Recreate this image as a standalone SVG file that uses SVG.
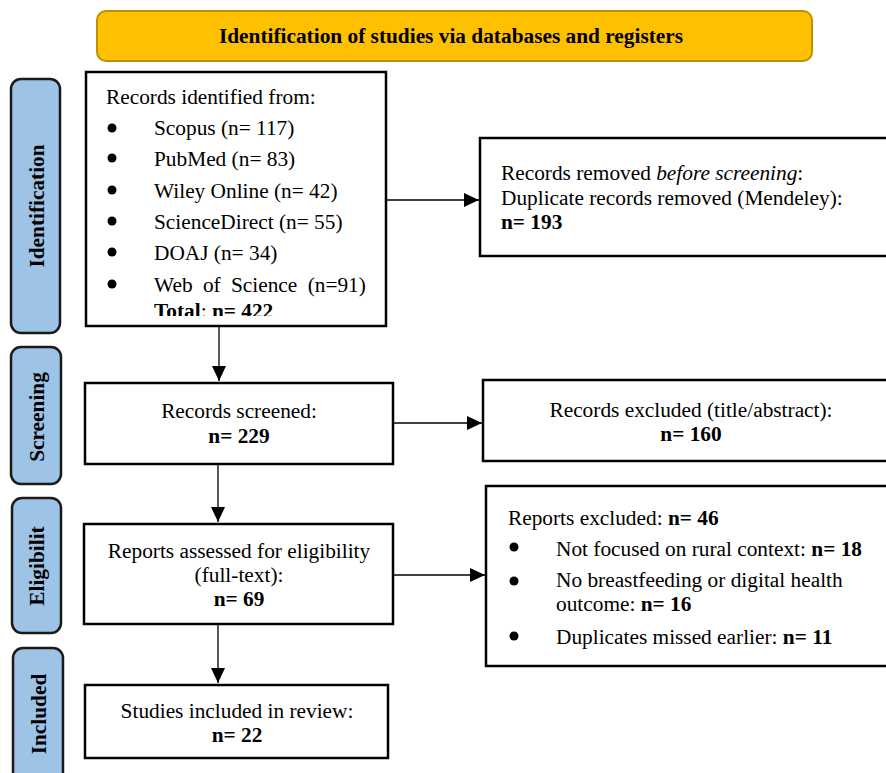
<svg xmlns="http://www.w3.org/2000/svg" width="886" height="773" viewBox="0 0 886 773">
<style>
text{font-family:"Liberation Serif","Times New Roman",serif;font-size:21.33px;fill:#000}
.b{font-weight:bold}
.c{text-anchor:middle}
.box{fill:#fff;stroke:#000;stroke-width:2.5}
.side{fill:#9DC3E6;stroke:#1a1a1a;stroke-width:2.5}
.conn{stroke:#000;stroke-width:1.3;fill:none}
</style>
<defs>
<marker id="ah" markerWidth="15" markerHeight="14" refX="15" refY="7" orient="auto" markerUnits="userSpaceOnUse">
<path d="M0,0 L15,7 L0,14 Z" fill="#000"/>
</marker>
<clipPath id="clip1"><rect x="86" y="72" width="300" height="244"/></clipPath>
</defs>

<g id="banner">
<rect x="97" y="11" width="715" height="50" rx="9" fill="#FFC000" stroke="#BF9000" stroke-width="2"/>
<text class="b c" x="451" y="43">Identification of studies via databases and registers</text>
</g>

<g id="phase-identification">
<rect class="side" x="11" y="79" width="49" height="254" rx="10"/>
<text class="b c" transform="translate(44,206) rotate(-90)">Identification</text>
</g>
<g id="phase-screening">
<rect class="side" x="11" y="347" width="50" height="137" rx="10"/>
<text class="b c" transform="translate(44,417) rotate(-90)">Screening</text>
</g>
<g id="phase-eligibility">
<rect class="side" x="12" y="498" width="49" height="135" rx="10"/>
<text class="b c" transform="translate(44,566) rotate(-90)">Eligibilit</text>
</g>
<g id="phase-included">
<rect class="side" x="13" y="648" width="50" height="140" rx="10"/>
<text class="b c" transform="translate(46,714) rotate(-90)">Included</text>
</g>

<g id="records-identified">
<rect class="box" x="86" y="72" width="300" height="254"/>
<g clip-path="url(#clip1)">
<text x="106" y="104">Records identified from:</text>
<circle cx="112" cy="128" r="4.5"/>
<text x="154" y="135">Scopus (n= 117)</text>
<circle cx="112" cy="158" r="4.5"/>
<text x="154" y="166">PubMed (n= 83)</text>
<circle cx="112" cy="190" r="4.5"/>
<text x="154" y="198">Wiley Online (n= 42)</text>
<circle cx="112" cy="221" r="4.5"/>
<text x="154" y="229">ScienceDirect (n= 55)</text>
<circle cx="112" cy="252" r="4.5"/>
<text x="154" y="260">DOAJ (n= 34)</text>
<circle cx="112" cy="284" r="4.5"/>
<text x="154" y="292" word-spacing="5">Web of Science (n=91)</text>
<text x="154" y="318"><tspan class="b">Total</tspan>: <tspan class="b">n= 422</tspan></text>
</g>
</g>

<g id="records-removed">
<rect class="box" x="480" y="138" width="420" height="118"/>
<text x="501" y="180">Records removed <tspan font-style="italic">before screening</tspan>:</text>
<text x="501" y="205">Duplicate records removed (Mendeley):</text>
<text class="b" x="501" y="229">n= 193</text>
</g>

<g id="records-screened">
<rect class="box" x="85" y="383" width="308" height="81"/>
<text class="c" x="239" y="418">Records screened:</text>
<text class="b c" x="239" y="443">n= 229</text>
</g>

<g id="records-excluded">
<rect class="box" x="483" y="380" width="420" height="81"/>
<text class="c" x="691" y="417">Records excluded (title/abstract):</text>
<text class="b c" x="691" y="441">n= 160</text>
</g>

<g id="reports-assessed">
<rect class="box" x="84" y="524" width="309" height="100"/>
<text class="c" x="239" y="558">Reports assessed for eligibility</text>
<text class="c" x="239" y="582">(full-text):</text>
<text class="b c" x="239" y="606">n= 69</text>
</g>

<g id="reports-excluded">
<rect class="box" x="486" y="486" width="420" height="180"/>
<text x="508" y="525">Reports excluded: <tspan class="b">n= 46</tspan></text>
<circle cx="514" cy="547" r="4.5"/>
<text x="556" y="556">Not focused on rural context: <tspan class="b">n= 18</tspan></text>
<circle cx="514" cy="581" r="4.5"/>
<text x="556" y="587">No breastfeeding or digital health</text>
<text x="556" y="611">outcome: <tspan class="b">n= 16</tspan></text>
<circle cx="514" cy="636" r="4.5"/>
<text x="556" y="644">Duplicates missed earlier: <tspan class="b">n= 11</tspan></text>
</g>

<g id="studies-included">
<rect class="box" x="85" y="685" width="303" height="73"/>
<text class="c" x="237" y="718">Studies included in review:</text>
<text class="b c" x="237" y="742">n= 22</text>
</g>

<g id="connectors">
<line class="conn" x1="219" y1="327" x2="219" y2="381" marker-end="url(#ah)"/>
<line class="conn" x1="218" y1="465" x2="218" y2="522" marker-end="url(#ah)"/>
<line class="conn" x1="218" y1="625" x2="218" y2="683" marker-end="url(#ah)"/>
<line class="conn" x1="387" y1="200" x2="479" y2="200" marker-end="url(#ah)"/>
<line class="conn" x1="394" y1="423" x2="482" y2="423" marker-end="url(#ah)"/>
<line class="conn" x1="394" y1="575" x2="485" y2="575" marker-end="url(#ah)"/>
</g>
</svg>
